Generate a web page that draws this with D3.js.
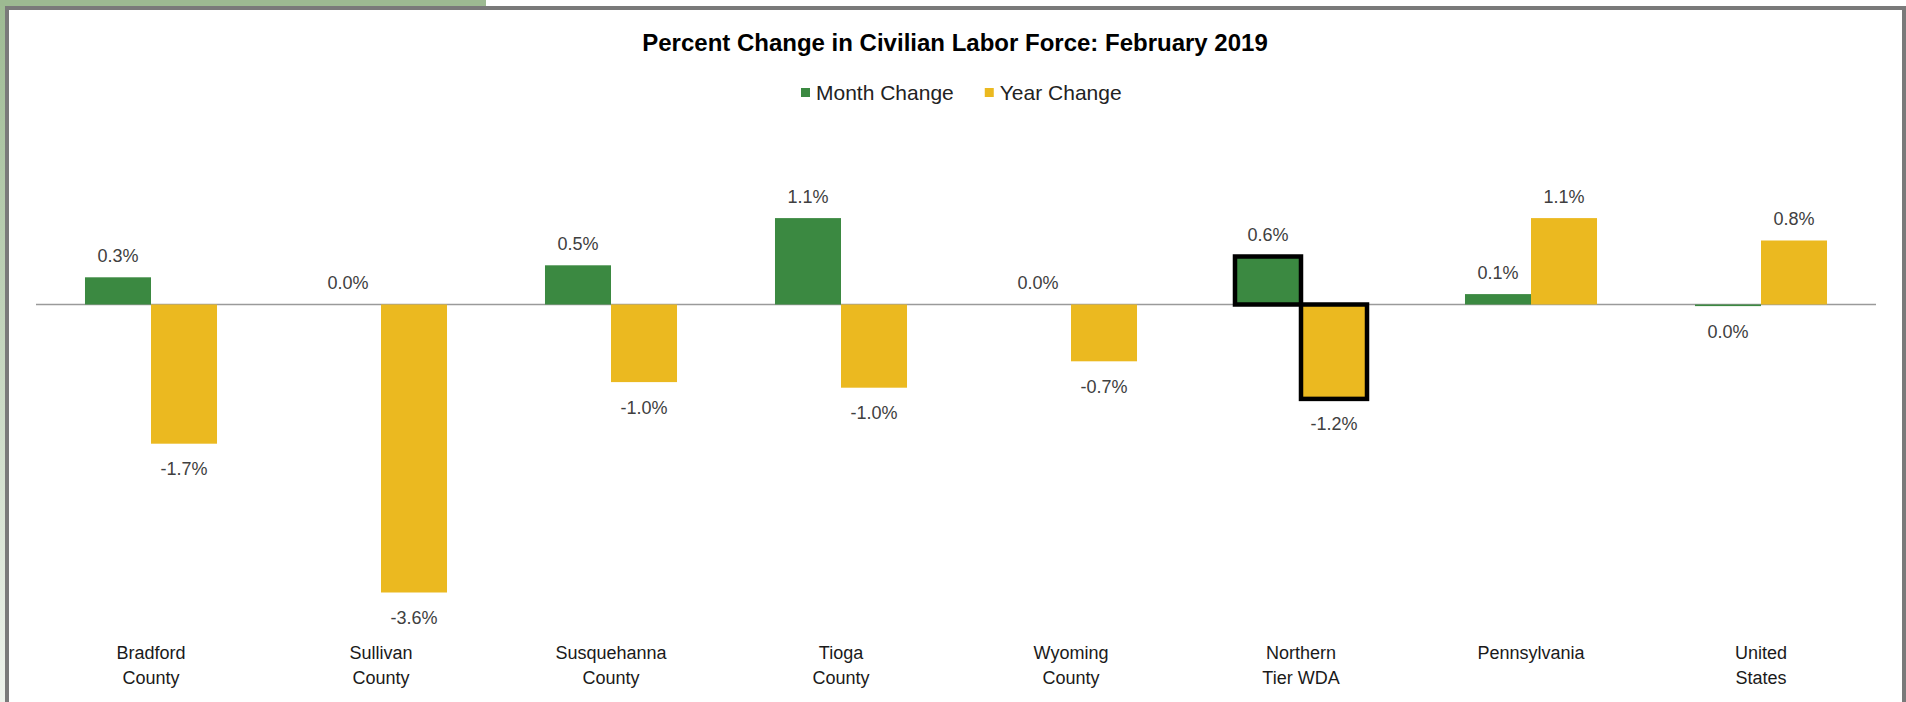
<!DOCTYPE html>
<html>
<head>
<meta charset="utf-8">
<script src="https://d3js.org/d3.v7.min.js"></script>
<style>
  body { margin: 0; background: #fff; }
  text { font-family: "Liberation Sans", Arial, sans-serif; }
</style>
</head>
<body>
<svg width="1906" height="702"></svg>
<script>
// data
var categories = ["Bradford\nCounty", "Sullivan\nCounty", "Susquehanna\nCounty", "Tioga\nCounty",
                  "Wyoming\nCounty", "Northern\nTier WDA", "Pennsylvania", "United\nStates"];
var seriesNames = ["Month Change", "Year Change"];
var monthChange = [0.34, 0.0, 0.49, 1.08, 0.0, 0.6, 0.13, -0.02];
var yearChange = [-1.74, -3.6, -0.97, -1.04, -0.71, -1.18, 1.08, 0.8];
var highlighted = "Northern\nTier WDA";

var colors = {"Month Change": "#3b8941", "Year Change": "#ebb920"};

var rows = categories.map(function(c, i) {
    return {cat: c, values: [
        {key: "Month Change", value: monthChange[i]},
        {key: "Year Change", value: yearChange[i]}
    ]};
});

var svg = d3.select("svg");

// frame: green strip + gray border like the pasted screenshot
var grad = svg.append("defs").append("linearGradient")
    .attr("id", "leftfade").attr("x1", 0).attr("x2", 0).attr("y1", 0).attr("y2", 1);
grad.append("stop").attr("offset", "0%").attr("stop-color", "#9dba92");
grad.append("stop").attr("offset", "100%").attr("stop-color", "#eef3ec");
svg.append("rect").attr("x", 0).attr("y", 0).attr("width", 5).attr("height", 702).attr("fill", "url(#leftfade)");
svg.append("rect").attr("x", 0).attr("y", 0).attr("width", 486).attr("height", 6).attr("fill", "#9dba92");
svg.append("rect").attr("x", 5).attr("y", 6).attr("width", 1901).attr("height", 4).attr("fill", "#7a7a7a");
svg.append("rect").attr("x", 5).attr("y", 6).attr("width", 4).attr("height", 696).attr("fill", "#7a7a7a");
svg.append("rect").attr("x", 1902).attr("y", 6).attr("width", 4).attr("height", 696).attr("fill", "#7a7a7a");

var x0 = d3.scaleBand().domain(categories).range([36, 1876]).paddingInner(0.426).paddingOuter(0.213);
var x1 = d3.scaleBand().domain(seriesNames).range([0, x0.bandwidth()]);
var y = d3.scaleLinear().domain([-4, 1.5]).range([624.5, 184.5]);

function fmt(v) {
    var r = Math.round(v * 10) / 10;
    if (r === 0) r = 0;
    return r.toFixed(1) + "%";
}

// title
svg.append("text").text("Percent Change in Civilian Labor Force: February 2019")
    .attr("x", 955).attr("y", 51)
    .attr("text-anchor", "middle")
    .style("font-size", "24px").style("font-weight", "bold").style("fill", "#000");

// legend
var legend = svg.append("g");
var lx = 801;
seriesNames.forEach(function(name) {
    legend.append("rect").attr("x", lx).attr("y", 88).attr("width", 9).attr("height", 9)
        .attr("fill", colors[name]);
    var t = legend.append("text").text(name)
        .attr("x", lx + 15).attr("y", 100)
        .style("font-size", "21px").style("fill", "#222");
    lx = lx + 15 + t.node().getComputedTextLength() + 31;
});

// zero line
svg.append("line")
    .attr("x1", 36).attr("x2", 1876)
    .attr("y1", y(0)).attr("y2", y(0))
    .attr("stroke", "#9a9a9a").attr("stroke-width", 1.5);

var groups = svg.selectAll("g.cat").data(rows).enter().append("g")
    .attr("class", "cat")
    .attr("transform", function(d) { return "translate(" + x0(d.cat) + ",0)"; });

groups.selectAll("rect").data(function(d) {
        return d.values.map(function(v) { return {cat: d.cat, key: v.key, value: v.value}; });
    }).enter().append("rect")
    .attr("x", function(d) { return x1(d.key); })
    .attr("width", x1.bandwidth())
    .attr("y", function(d) { return Math.min(y(0), y(d.value)); })
    .attr("height", function(d) { return Math.abs(y(d.value) - y(0)); })
    .attr("fill", function(d) { return colors[d.key]; })
    .attr("stroke", function(d) { return d.cat === highlighted ? "#000" : "none"; })
    .attr("stroke-width", 4.5);

groups.selectAll("text.val").data(function(d) { return d.values; }).enter().append("text")
    .attr("class", "val")
    .text(function(d) { return fmt(d.value); })
    .attr("x", function(d) { return x1(d.key) + x1.bandwidth() / 2; })
    .attr("y", function(d) {
        return d.value >= 0 ? y(d.value) - 22 + 6.5 : y(d.value) + 25 + 6.5;
    })
    .attr("text-anchor", "middle")
    .style("font-size", "18px").style("fill", "#404040");

// category labels
groups.each(function(d) {
    var t = d3.select(this).append("text")
        .attr("text-anchor", "middle")
        .style("font-size", "18px").style("fill", "#1a1a1a");
    d.cat.split("\n").forEach(function(line, i) {
        t.append("tspan").text(line)
            .attr("x", x0.bandwidth() / 2)
            .attr("y", 659 + i * 25);
    });
});
</script>
</body>
</html>
